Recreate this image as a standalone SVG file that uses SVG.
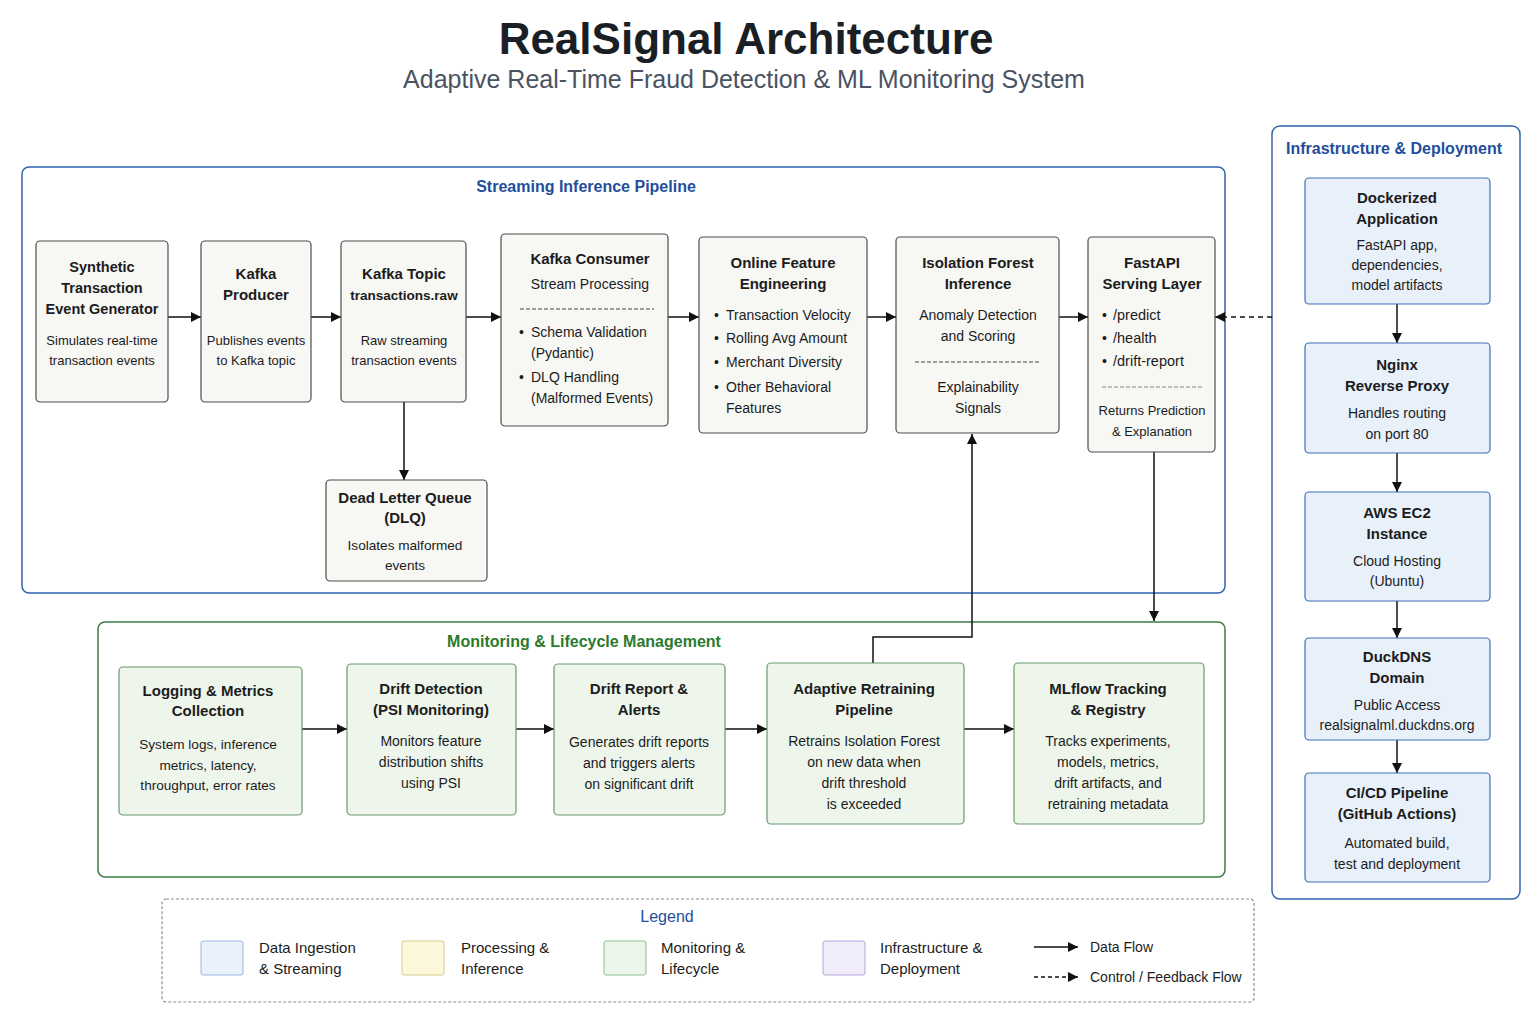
<svg xmlns="http://www.w3.org/2000/svg" width="1536" height="1024" viewBox="0 0 1536 1024">
<defs>
<marker id="arr" viewBox="0 0 10 10" refX="10" refY="5" markerWidth="10" markerHeight="10" markerUnits="userSpaceOnUse" orient="auto">
<path d="M0,0 L10,5 L0,10 z" fill="#111"/>
</marker>
<style>
text{font-family:"Liberation Sans",Arial,sans-serif;fill:#1c1c1c}
.t{font-size:15px;font-weight:bold;text-anchor:middle}
.b{font-size:14px;text-anchor:middle}
.bs{font-size:13px;text-anchor:middle}
.bl{font-size:14px}
.ct{font-size:16px;font-weight:bold;text-anchor:middle}
.sn{fill:#f7f7f4;stroke:#4d4d4d;stroke-width:1.2}
.mn{fill:#eef6ec;stroke:#6b9a6d;stroke-width:1.2}
.in{fill:#e8f0fa;stroke:#3d70b7;stroke-width:1.2}
.sep{stroke:#444;stroke-width:1;stroke-dasharray:4 2}
.c{fill:none;stroke:#111;stroke-width:1.5}
.lg{font-size:15px}
.lf{font-size:14px}
</style>
</defs>
<rect width="1536" height="1024" fill="#ffffff"/>
<text x="746" y="54" text-anchor="middle" style="font-size:44px;font-weight:bold;fill:#1a1f26">RealSignal Architecture</text>
<text x="744" y="88" text-anchor="middle" style="font-size:25px;fill:#4a5361">Adaptive Real-Time Fraud Detection &amp; ML Monitoring System</text>

<g id="streaming-container">
<rect x="22" y="167" width="1203" height="426" rx="7" fill="#ffffff" stroke="#2e64b0" stroke-width="1.5"/>
<text class="ct" x="586" y="192" style="fill:#1f4e9c">Streaming Inference Pipeline</text>
</g>
<g id="monitoring-container">
<rect x="98" y="622" width="1127" height="255" rx="7" fill="#ffffff" stroke="#3a7d44" stroke-width="1.5"/>
<text class="ct" x="584" y="647" style="fill:#2a7a2e">Monitoring &amp; Lifecycle Management</text>
</g>
<g id="infra-container">
<rect x="1272" y="126" width="248" height="773" rx="8" fill="#ffffff" stroke="#2e64b0" stroke-width="1.5"/>
<text class="ct" x="1394" y="154" style="fill:#1f4e9c">Infrastructure &amp; Deployment</text>
</g>

<g id="connectors">
<line class="c" x1="168" y1="317" x2="201" y2="317" marker-end="url(#arr)"/>
<line class="c" x1="311" y1="317" x2="341" y2="317" marker-end="url(#arr)"/>
<line class="c" x1="466" y1="317" x2="501" y2="317" marker-end="url(#arr)"/>
<line class="c" x1="668" y1="317" x2="699" y2="317" marker-end="url(#arr)"/>
<line class="c" x1="867" y1="317" x2="896" y2="317" marker-end="url(#arr)"/>
<line class="c" x1="1059" y1="317" x2="1088" y2="317" marker-end="url(#arr)"/>
<line class="c" x1="404" y1="402" x2="404" y2="480" marker-end="url(#arr)"/>
<line class="c" x1="1272" y1="317" x2="1215" y2="317" stroke-dasharray="5 4" marker-end="url(#arr)"/>
<line class="c" x1="1154" y1="452" x2="1154" y2="621" marker-end="url(#arr)"/>
<path class="c" d="M873,663 L873,637 L972,637 L972,434" marker-end="url(#arr)"/>
<line class="c" x1="302" y1="729" x2="347" y2="729" marker-end="url(#arr)"/>
<line class="c" x1="516" y1="729" x2="554" y2="729" marker-end="url(#arr)"/>
<line class="c" x1="725" y1="729" x2="767" y2="729" marker-end="url(#arr)"/>
<line class="c" x1="964" y1="729" x2="1014" y2="729" marker-end="url(#arr)"/>
<line class="c" x1="1397" y1="304" x2="1397" y2="343" marker-end="url(#arr)"/>
<line class="c" x1="1397" y1="453" x2="1397" y2="492" marker-end="url(#arr)"/>
<line class="c" x1="1397" y1="601" x2="1397" y2="638" marker-end="url(#arr)"/>
<line class="c" x1="1397" y1="740" x2="1397" y2="773" marker-end="url(#arr)"/>
</g>

<g id="synthetic-generator">
<rect class="sn" x="36" y="241" width="132" height="161" rx="4"/>
<text class="t" x="102" y="272" style="font-size:14.5px">Synthetic</text>
<text class="t" x="102" y="293" style="font-size:14.5px">Transaction</text>
<text class="t" x="102" y="314" style="font-size:14.5px">Event Generator</text>
<text class="bs" x="102" y="345">Simulates real-time</text>
<text class="bs" x="102" y="365">transaction events</text>
</g>
<g id="kafka-producer">
<rect class="sn" x="201" y="241" width="110" height="161" rx="4"/>
<text class="t" x="256" y="279">Kafka</text>
<text class="t" x="256" y="300">Producer</text>
<text class="bs" x="256" y="345">Publishes events</text>
<text class="bs" x="256" y="365">to Kafka topic</text>
</g>
<g id="kafka-topic">
<rect class="sn" x="341" y="241" width="125" height="161" rx="4"/>
<text class="t" x="404" y="279">Kafka Topic</text>
<text class="t" x="404" y="300" style="font-size:13.5px">transactions.raw</text>
<text class="bs" x="404" y="345">Raw streaming</text>
<text class="bs" x="404" y="365">transaction events</text>
</g>
<g id="kafka-consumer">
<rect class="sn" x="501" y="234" width="167" height="192" rx="4"/>
<text class="t" x="590" y="264">Kafka Consumer</text>
<text class="b" x="590" y="289">Stream Processing</text>
<line class="sep" x1="520" y1="309" x2="654" y2="309"/>
<text class="bl" x="519" y="337">•</text>
<text class="bl" x="531" y="337">Schema Validation</text>
<text class="bl" x="531" y="358">(Pydantic)</text>
<text class="bl" x="519" y="382">•</text>
<text class="bl" x="531" y="382">DLQ Handling</text>
<text class="bl" x="531" y="403">(Malformed Events)</text>
</g>
<g id="online-feature-engineering">
<rect class="sn" x="699" y="237" width="168" height="196" rx="4"/>
<text class="t" x="783" y="268">Online Feature</text>
<text class="t" x="783" y="289">Engineering</text>
<text class="bl" x="714" y="320">•</text>
<text class="bl" x="726" y="320">Transaction Velocity</text>
<text class="bl" x="714" y="343">•</text>
<text class="bl" x="726" y="343">Rolling Avg Amount</text>
<text class="bl" x="714" y="367">•</text>
<text class="bl" x="726" y="367">Merchant Diversity</text>
<text class="bl" x="714" y="392">•</text>
<text class="bl" x="726" y="392">Other Behavioral</text>
<text class="bl" x="726" y="413">Features</text>
</g>
<g id="isolation-forest">
<rect class="sn" x="896" y="237" width="163" height="196" rx="4"/>
<text class="t" x="978" y="268">Isolation Forest</text>
<text class="t" x="978" y="289">Inference</text>
<text class="b" x="978" y="320">Anomaly Detection</text>
<text class="b" x="978" y="341">and Scoring</text>
<line class="sep" x1="915" y1="362" x2="1041" y2="362"/>
<text class="b" x="978" y="392">Explainability</text>
<text class="b" x="978" y="413">Signals</text>
</g>
<g id="fastapi">
<rect class="sn" x="1088" y="237" width="127" height="215" rx="4"/>
<text class="t" x="1152" y="268">FastAPI</text>
<text class="t" x="1152" y="289">Serving Layer</text>
<text class="bl" x="1102" y="320">•</text>
<text class="bl" x="1113" y="320" style="font-size:14.5px">/predict</text>
<text class="bl" x="1102" y="343">•</text>
<text class="bl" x="1113" y="343" style="font-size:14.5px">/health</text>
<text class="bl" x="1102" y="366">•</text>
<text class="bl" x="1113" y="366" style="font-size:14.5px">/drift-report</text>
<line class="sep" x1="1102" y1="387" x2="1203" y2="387" style="stroke:#888"/>
<text class="bs" x="1152" y="415">Returns Prediction</text>
<text class="bs" x="1152" y="436">&amp; Explanation</text>
</g>
<g id="dlq">
<rect class="sn" x="326" y="480" width="161" height="101" rx="4"/>
<text class="t" x="405" y="503">Dead Letter Queue</text>
<text class="t" x="405" y="523">(DLQ)</text>
<text class="b" x="405" y="550" style="font-size:13.6px">Isolates malformed</text>
<text class="b" x="405" y="570" style="font-size:13.6px">events</text>
</g>

<g id="logging-metrics">
<rect class="mn" x="119" y="667" width="183" height="148" rx="4"/>
<text class="t" x="208" y="696">Logging &amp; Metrics</text>
<text class="t" x="208" y="716">Collection</text>
<text class="b" x="208" y="749" style="font-size:13.6px">System logs, inference</text>
<text class="b" x="208" y="770" style="font-size:13.6px">metrics, latency,</text>
<text class="b" x="208" y="790" style="font-size:13.6px">throughput, error rates</text>
</g>
<g id="drift-detection">
<rect class="mn" x="347" y="664" width="169" height="151" rx="4"/>
<text class="t" x="431" y="694">Drift Detection</text>
<text class="t" x="431" y="715">(PSI Monitoring)</text>
<text class="b" x="431" y="746">Monitors feature</text>
<text class="b" x="431" y="767">distribution shifts</text>
<text class="b" x="431" y="788">using PSI</text>
</g>
<g id="drift-report">
<rect class="mn" x="554" y="664" width="171" height="151" rx="4"/>
<text class="t" x="639" y="694">Drift Report &amp;</text>
<text class="t" x="639" y="715">Alerts</text>
<text class="b" x="639" y="747">Generates drift reports</text>
<text class="b" x="639" y="768">and triggers alerts</text>
<text class="b" x="639" y="789">on significant drift</text>
</g>
<g id="adaptive-retraining">
<rect class="mn" x="767" y="663" width="197" height="161" rx="4"/>
<text class="t" x="864" y="694">Adaptive Retraining</text>
<text class="t" x="864" y="715">Pipeline</text>
<text class="b" x="864" y="746">Retrains Isolation Forest</text>
<text class="b" x="864" y="767">on new data when</text>
<text class="b" x="864" y="788">drift threshold</text>
<text class="b" x="864" y="809">is exceeded</text>
</g>
<g id="mlflow">
<rect class="mn" x="1014" y="663" width="190" height="161" rx="4"/>
<text class="t" x="1108" y="694">MLflow Tracking</text>
<text class="t" x="1108" y="715">&amp; Registry</text>
<text class="b" x="1108" y="746">Tracks experiments,</text>
<text class="b" x="1108" y="767">models, metrics,</text>
<text class="b" x="1108" y="788">drift artifacts, and</text>
<text class="b" x="1108" y="809">retraining metadata</text>
</g>

<g id="docker">
<rect class="in" x="1305" y="178" width="185" height="126" rx="4"/>
<text class="t" x="1397" y="203">Dockerized</text>
<text class="t" x="1397" y="224">Application</text>
<text class="b" x="1397" y="250">FastAPI app,</text>
<text class="b" x="1397" y="270">dependencies,</text>
<text class="b" x="1397" y="290">model artifacts</text>
</g>
<g id="nginx">
<rect class="in" x="1305" y="343" width="185" height="110" rx="4"/>
<text class="t" x="1397" y="370">Nginx</text>
<text class="t" x="1397" y="391">Reverse Proxy</text>
<text class="b" x="1397" y="418">Handles routing</text>
<text class="b" x="1397" y="439">on port 80</text>
</g>
<g id="aws-ec2">
<rect class="in" x="1305" y="492" width="185" height="109" rx="4"/>
<text class="t" x="1397" y="518">AWS EC2</text>
<text class="t" x="1397" y="539">Instance</text>
<text class="b" x="1397" y="566">Cloud Hosting</text>
<text class="b" x="1397" y="586">(Ubuntu)</text>
</g>
<g id="duckdns">
<rect class="in" x="1305" y="638" width="185" height="102" rx="4"/>
<text class="t" x="1397" y="662">DuckDNS</text>
<text class="t" x="1397" y="683">Domain</text>
<text class="b" x="1397" y="710">Public Access</text>
<text class="b" x="1397" y="730">realsignalml.duckdns.org</text>
</g>
<g id="cicd">
<rect class="in" x="1305" y="773" width="185" height="109" rx="4"/>
<text class="t" x="1397" y="798">CI/CD Pipeline</text>
<text class="t" x="1397" y="819">(GitHub Actions)</text>
<text class="b" x="1397" y="848">Automated build,</text>
<text class="b" x="1397" y="869">test and deployment</text>
</g>

<g id="legend">
<rect x="162" y="899" width="1092" height="103" rx="4" fill="#ffffff" stroke="#8a8f98" stroke-width="1.2" stroke-dasharray="3 2"/>
<text x="667" y="922" text-anchor="middle" style="font-size:16px;fill:#1f4e9c">Legend</text>
<rect x="201" y="941" width="42" height="34" rx="2" fill="#eaf1fa" stroke="#9bb8de"/>
<text class="lg" x="259" y="953">Data Ingestion</text>
<text class="lg" x="259" y="974">&amp; Streaming</text>
<rect x="402" y="941" width="42" height="34" rx="2" fill="#fdf8dc" stroke="#d8cc8a"/>
<text class="lg" x="461" y="953">Processing &amp;</text>
<text class="lg" x="461" y="974">Inference</text>
<rect x="604" y="941" width="42" height="34" rx="2" fill="#ebf5ea" stroke="#8fbf8f"/>
<text class="lg" x="661" y="953">Monitoring &amp;</text>
<text class="lg" x="661" y="974">Lifecycle</text>
<rect x="823" y="941" width="42" height="34" rx="2" fill="#f1ecfa" stroke="#b7a6dc"/>
<text class="lg" x="880" y="953">Infrastructure &amp;</text>
<text class="lg" x="880" y="974">Deployment</text>
<line class="c" x1="1034" y1="947" x2="1078" y2="947" marker-end="url(#arr)"/>
<text class="lf" x="1090" y="952">Data Flow</text>
<line class="c" x1="1034" y1="977" x2="1078" y2="977" stroke-dasharray="4 3" marker-end="url(#arr)"/>
<text class="lf" x="1090" y="982">Control / Feedback Flow</text>
</g>
</svg>
